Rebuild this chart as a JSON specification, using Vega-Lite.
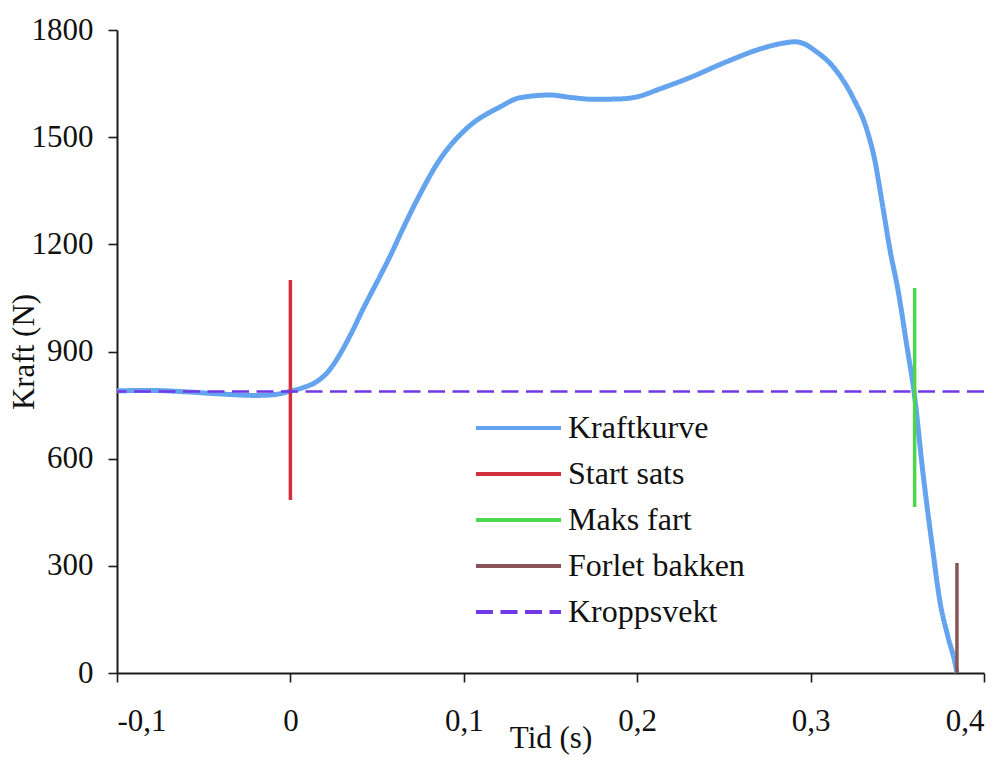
{
  "$schema": "https://vega.github.io/schema/vega-lite/v6.json",
  "width": 867,
  "height": 643,
  "autosize": "none",
  "padding": {"left": 117, "top": 30, "right": 21, "bottom": 85},
  "background": "white",
  "config": {
    "view": {"stroke": null},
    "font": "Liberation Serif",
    "axis": {
      "grid": false,
      "domainColor": "#1a1a1a",
      "domainWidth": 2,
      "tickColor": "#1a1a1a",
      "tickWidth": 1.6,
      "tickSize": 9,
      "labelFont": "Liberation Serif",
      "labelFontSize": 31,
      "labelColor": "#111111",
      "titleFont": "Liberation Serif",
      "titleFontSize": 31,
      "titleFontWeight": "normal",
      "titleColor": "#111111"
    },
    "legend": {
      "orient": "none",
      "legendX": 353,
      "legendY": 382,
      "symbolType": "M-1,0L7.5,0",
      "symbolSize": 400,
      "symbolStrokeWidth": 4,
      "labelFont": "Liberation Serif",
      "labelFontSize": 32,
      "labelColor": "#111111",
      "labelOffset": 66,
      "rowPadding": 14,
      "labelLimit": 400
    }
  },
  "datasets": {
    "kraft": [
      {"serie": "Kraftkurve", "t": -0.1, "F": 790},
      {"serie": "Kraftkurve", "t": -0.08, "F": 791},
      {"serie": "Kraftkurve", "t": -0.06, "F": 787},
      {"serie": "Kraftkurve", "t": -0.04, "F": 781},
      {"serie": "Kraftkurve", "t": -0.02, "F": 777},
      {"serie": "Kraftkurve", "t": -0.01, "F": 779},
      {"serie": "Kraftkurve", "t": 0, "F": 789},
      {"serie": "Kraftkurve", "t": 0.008, "F": 800},
      {"serie": "Kraftkurve", "t": 0.015, "F": 815},
      {"serie": "Kraftkurve", "t": 0.022, "F": 845},
      {"serie": "Kraftkurve", "t": 0.029, "F": 896},
      {"serie": "Kraftkurve", "t": 0.035, "F": 950},
      {"serie": "Kraftkurve", "t": 0.042, "F": 1020},
      {"serie": "Kraftkurve", "t": 0.05, "F": 1095},
      {"serie": "Kraftkurve", "t": 0.057, "F": 1162},
      {"serie": "Kraftkurve", "t": 0.065, "F": 1245},
      {"serie": "Kraftkurve", "t": 0.073, "F": 1324},
      {"serie": "Kraftkurve", "t": 0.086, "F": 1436},
      {"serie": "Kraftkurve", "t": 0.102, "F": 1526},
      {"serie": "Kraftkurve", "t": 0.121, "F": 1585},
      {"serie": "Kraftkurve", "t": 0.132, "F": 1610},
      {"serie": "Kraftkurve", "t": 0.15, "F": 1618},
      {"serie": "Kraftkurve", "t": 0.162, "F": 1611},
      {"serie": "Kraftkurve", "t": 0.175, "F": 1606},
      {"serie": "Kraftkurve", "t": 0.19, "F": 1607},
      {"serie": "Kraftkurve", "t": 0.2, "F": 1613},
      {"serie": "Kraftkurve", "t": 0.213, "F": 1635},
      {"serie": "Kraftkurve", "t": 0.231, "F": 1668},
      {"serie": "Kraftkurve", "t": 0.25, "F": 1708},
      {"serie": "Kraftkurve", "t": 0.273, "F": 1750},
      {"serie": "Kraftkurve", "t": 0.284, "F": 1763},
      {"serie": "Kraftkurve", "t": 0.291, "F": 1767},
      {"serie": "Kraftkurve", "t": 0.296, "F": 1762},
      {"serie": "Kraftkurve", "t": 0.302, "F": 1744},
      {"serie": "Kraftkurve", "t": 0.313, "F": 1697},
      {"serie": "Kraftkurve", "t": 0.3245, "F": 1610},
      {"serie": "Kraftkurve", "t": 0.3325, "F": 1520},
      {"serie": "Kraftkurve", "t": 0.337, "F": 1436},
      {"serie": "Kraftkurve", "t": 0.341, "F": 1324},
      {"serie": "Kraftkurve", "t": 0.3458, "F": 1184},
      {"serie": "Kraftkurve", "t": 0.3504, "F": 1072},
      {"serie": "Kraftkurve", "t": 0.3556, "F": 913},
      {"serie": "Kraftkurve", "t": 0.3596, "F": 789},
      {"serie": "Kraftkurve", "t": 0.3648, "F": 560},
      {"serie": "Kraftkurve", "t": 0.3703, "F": 350},
      {"serie": "Kraftkurve", "t": 0.3746, "F": 200},
      {"serie": "Kraftkurve", "t": 0.3793, "F": 100},
      {"serie": "Kraftkurve", "t": 0.3833, "F": 28},
      {"serie": "Kraftkurve", "t": 0.3844, "F": 0}
    ],
    "markers": [
      {"serie": "Start sats", "t": 0, "lo": 484, "hi": 1100},
      {"serie": "Maks fart", "t": 0.36, "lo": 465, "hi": 1078},
      {"serie": "Forlet bakken", "t": 0.3844, "lo": 0, "hi": 308}
    ],
    "vekt": [
      {"serie": "Kroppsvekt", "F": 788}
    ]
  },
  "encoding": {
    "color": {
      "field": "serie",
      "type": "nominal",
      "title": null,
      "scale": {
        "domain": ["Kraftkurve", "Start sats", "Maks fart", "Forlet bakken", "Kroppsvekt"],
        "range": ["#64a3ee", "#d22f3c", "#4cd64c", "#8a5558", "#7138e6"]
      }
    },
    "strokeDash": {
      "field": "serie",
      "type": "nominal",
      "title": null,
      "scale": {
        "domain": ["Kraftkurve", "Start sats", "Maks fart", "Forlet bakken", "Kroppsvekt"],
        "range": [[1, 0], [1, 0], [1, 0], [1, 0], [17, 7.5]]
      }
    }
  },
  "layer": [
    {
      "data": {"name": "kraft"},
      "mark": {"type": "line", "interpolate": "monotone", "strokeWidth": 5, "strokeCap": "butt"},
      "encoding": {
        "x": {
          "field": "t",
          "type": "quantitative",
          "title": "Tid (s)",
          "scale": {"domain": [-0.1, 0.4], "nice": false, "zero": false},
          "axis": {
            "values": [-0.1, 0, 0.1, 0.2, 0.3, 0.4],
            "labelExpr": "replace(toString(datum.value), '.', ',')",
            "labelBaseline": "alphabetic",
            "labelPadding": 48,
            "titleBaseline": "alphabetic",
            "titleY": 74
          }
        },
        "y": {
          "field": "F",
          "type": "quantitative",
          "title": "Kraft (N)",
          "scale": {"domain": [0, 1800], "nice": false},
          "axis": {
            "values": [0, 300, 600, 900, 1200, 1500, 1800],
            "format": "d",
            "labelPadding": 15,
            "titleBaseline": "alphabetic",
            "titleX": -84
          }
        }
      }
    },
    {
      "data": {"name": "markers"},
      "mark": {"type": "rule", "strokeWidth": 3.5},
      "encoding": {
        "x": {"field": "t", "type": "quantitative"},
        "y": {"field": "lo", "type": "quantitative"},
        "y2": {"field": "hi"}
      }
    },
    {
      "data": {"name": "vekt"},
      "mark": {"type": "rule", "strokeWidth": 2.5},
      "encoding": {
        "y": {"field": "F", "type": "quantitative"}
      }
    }
  ]
}
